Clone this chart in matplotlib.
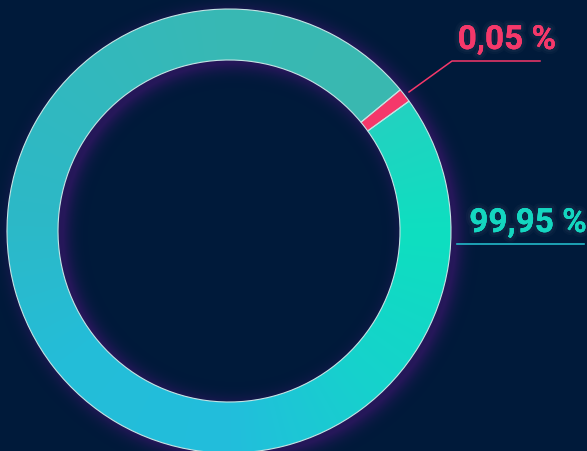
import numpy as np
import matplotlib
matplotlib.use("Agg")
import matplotlib.pyplot as plt
import matplotlib.patheffects as pe
from matplotlib.colors import LinearSegmentedColormap, to_rgb

# ==========================
# Données
# ==========================
valeurs = [0.05, 99.95]
etiquettes = ["0,05 %", "99,95 %"]
couleur_rose = "#f5386a"
couleur_turquoise = "#14d6c0"
angle_min = 3.7          # taille minimale d'affichage d'une part (degrés)

fond = "#001a3a"
contour = "#c4e4e4"

# dégradé angulaire de la grande part (du bord rose, sens horaire)
degrade = LinearSegmentedColormap.from_list("anneau", [
    (0.00, "#22d2c0"),
    (0.10, "#0edfc0"),
    (0.23, "#16d2cc"),
    (0.35, "#22bedc"),
    (0.50, "#24bdd8"),
    (0.61, "#2cb9c8"),
    (0.86, "#38b8b4"),
    (1.00, "#3ab8b0"),
])

W, H = 587, 452
cx, cy = 229, H - 232
R, epaisseur = 222, 51

fig = plt.figure(figsize=(W / 100, H / 100), dpi=100)
fig.patch.set_facecolor(fond)
ax = fig.add_axes([0, 0, 1, 1])
ax.set_facecolor(fond)

# angles affichés (part minimale visible)
total = sum(valeurs)
angles = [v / total * 360 for v in valeurs]
petit = max(angles[0], angle_min)
angles_aff = [petit, 360 - petit]
debut = 39.5

parts, _ = ax.pie(angles_aff, startangle=debut, counterclock=False,
                  radius=R, center=(cx, cy), colors=[couleur_rose, "none"],
                  wedgeprops=dict(width=epaisseur, edgecolor=contour, linewidth=0.8),
                  frame=True)
for p in parts:
    p.set_zorder(3)

ax.set_xlim(0, W)
ax.set_ylim(0, H)
ax.set_aspect("equal")
ax.axis("off")

# grille de pixels
X, Y = np.meshgrid(np.arange(W) + 0.5, np.arange(H) + 0.5)
theta = np.degrees(np.arctan2(Y - cy, X - cx))

# ombre portée floue (décalée vers la droite et le bas)
def flou(a, sigma):
    n = int(3 * sigma)
    x = np.arange(-n, n + 1)
    k = np.exp(-x ** 2 / (2 * sigma ** 2))
    k /= k.sum()
    a = np.apply_along_axis(lambda m: np.convolve(m, k, mode="same"), 0, a)
    a = np.apply_along_axis(lambda m: np.convolve(m, k, mode="same"), 1, a)
    return a

rr_ombre = np.hypot(X - (cx + 6), Y - (cy - 4))
masque = ((rr_ombre <= R) & (rr_ombre >= R - epaisseur)).astype(float)
lueur = np.clip(flou(masque, 9) * 1.4, 0, 0.75)
img_lueur = np.zeros((H, W, 4))
img_lueur[..., :3] = to_rgb("#321664")
img_lueur[..., 3] = lueur
ax.imshow(img_lueur, extent=(0, W, 0, H), origin="lower", zorder=1,
          interpolation="bilinear")

# dégradé de la grande part
fin_rose = debut - petit
d = np.mod(fin_rose - theta, 360) / angles_aff[1]
rgb = degrade(np.clip(d, 0, 1))
im = ax.imshow(rgb, extent=(0, W, 0, H), origin="lower", zorder=2,
               interpolation="bilinear")
im.set_clip_path(parts[1])

# ==========================
# Étiquettes
# ==========================
effet = [pe.withStroke(linewidth=7, foreground="#c8c8d8", alpha=0.03),
         pe.withStroke(linewidth=4, foreground="#c8c8d8", alpha=0.04),
         pe.Normal()]

ax.plot([409, 452, 540], [H - 93, H - 62, H - 62], color=couleur_rose, lw=1.1, zorder=4)
ax.text(507, H - 50, etiquettes[0], color=couleur_rose, fontsize=24,
        fontfamily="Roboto", fontweight="bold", ha="center", va="baseline",
        path_effects=effet, zorder=5)

ax.plot([457, 584], [H - 245, H - 245], color="#22b8c8", lw=1.2, zorder=4)
ax.text(528, H - 233, etiquettes[1], color=couleur_turquoise, fontsize=24,
        fontfamily="Roboto", fontweight="bold", ha="center", va="baseline",
        path_effects=effet, zorder=5)

fig.savefig("out.png", dpi=100, facecolor=fond)
